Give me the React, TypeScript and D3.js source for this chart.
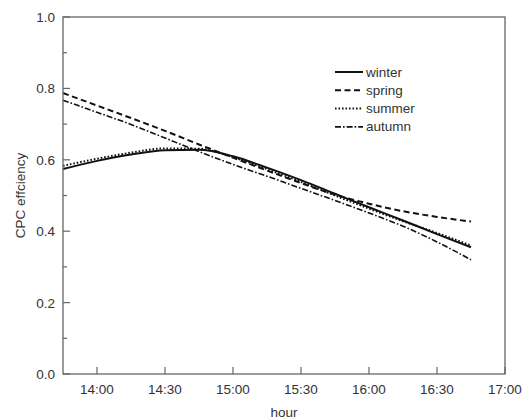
import React from 'react'
import * as d3 from 'd3'

const width = 530
const height = 419
const margin = { top: 17, right: 25, bottom: 45, left: 63 }

// times in 15-minute steps, 13:45 .. 16:45
const times = ['13:45', '14:00', '14:15', '14:30', '14:45', '15:00', '15:15',
  '15:30', '15:45', '16:00', '16:15', '16:30', '16:45']

const winter = [0.574, 0.597, 0.615, 0.627, 0.628, 0.61, 0.578, 0.543, 0.505, 0.467, 0.43, 0.392, 0.355]
const spring = [0.787, 0.752, 0.717, 0.681, 0.643, 0.606, 0.57, 0.535, 0.502, 0.477, 0.456, 0.44, 0.427]
const summer = [0.583, 0.603, 0.62, 0.632, 0.631, 0.607, 0.574, 0.538, 0.5, 0.463, 0.428, 0.395, 0.36]
const autumn = [0.767, 0.733, 0.699, 0.661, 0.623, 0.587, 0.554, 0.52, 0.486, 0.451, 0.414, 0.37, 0.32]

const seriesNames = ['winter', 'spring', 'summer', 'autumn']
const yTicks = [0, 0.2, 0.4, 0.6, 0.8, 1.0]
const yMinorTicks = [0.1, 0.3, 0.5, 0.7, 0.9]

const dashes: { [k: string]: string } = {
  winter: 'none',
  spring: '6,3.5',
  summer: '1.6,1.9',
  autumn: '6,2,1.6,2',
}
const widths: { [k: string]: number } = { winter: 2, spring: 2, summer: 2, autumn: 1.6 }

const parseT = (s: string) => d3.timeParse('%H:%M')(s) as Date

export default function App() {
  const seriesValues = [winter, spring, summer, autumn]

  const x = d3.scaleTime()
    .domain([parseT('13:45'), parseT('17:00')])
    .range([margin.left, width - margin.right])

  const y = d3.scaleLinear()
    .domain([0, 1])
    .range([height - margin.bottom, margin.top])

  const xTicks = x.ticks(d3.timeMinute.every(30) as d3.TimeInterval)
  const fmt = d3.timeFormat('%H:%M')

  const line = d3.line<number>()
    .x((_, i) => x(parseT(times[i])))
    .y(d => y(d))
    .curve(d3.curveMonotoneX)

  const axisColor = '#666'
  const textColor = '#333'
  const font = 'Liberation Sans, Arial, sans-serif'
  const x0 = margin.left
  const x1 = width - margin.right
  const yb = height - margin.bottom
  const yt = margin.top

  return (
    <svg width={width} height={height}
      style={{ position: 'absolute', left: 0, top: 0, background: '#fff' }}
      fontFamily={font}>
      <rect x={0} y={0} width={width} height={height} fill='#fff' />

      {/* series */}
      {seriesNames.map((name, k) => (
        <path key={name}
          d={line(seriesValues[k]) || ''}
          fill='none'
          stroke='#111'
          strokeWidth={widths[name]}
          strokeDasharray={dashes[name]} />
      ))}

      {/* frame */}
      <rect x={x0} y={yt} width={x1 - x0} height={yb - yt}
        fill='none' stroke={axisColor} strokeWidth={1.3} />

      {/* y ticks */}
      {yTicks.map(t => (
        <g key={'y' + t}>
          <line x1={x0} x2={x0 + 7} y1={y(t)} y2={y(t)} stroke={axisColor} strokeWidth={1.2} />
          <text x={x0 - 8} y={y(t) + 5} textAnchor='end' fontSize={13.5} fill={textColor}>
            {t.toFixed(1)}
          </text>
        </g>
      ))}
      {yMinorTicks.map(t => (
        <line key={'ym' + t} x1={x0} x2={x0 + 4} y1={y(t)} y2={y(t)} stroke={axisColor} strokeWidth={1.2} />
      ))}

      {/* x ticks */}
      {xTicks.map(t => (
        <g key={'x' + t.getTime()}>
          <line x1={x(t)} x2={x(t)} y1={yb} y2={yb - 7} stroke={axisColor} strokeWidth={1.2} />
          <text x={x(t)} y={yb + 20} textAnchor='middle' fontSize={13.5} fill={textColor}>
            {fmt(t)}
          </text>
        </g>
      ))}

      {/* axis titles */}
      <text x={(x0 + x1) / 2} y={height - 2} textAnchor='middle' fontSize={13.5} fill={textColor}>
        hour
      </text>
      <text transform={'translate(25,' + ((yt + yb) / 2) + ') rotate(-90)'}
        textAnchor='middle' fontSize={13.5} fill={textColor}>
        CPC effciency
      </text>

      {/* legend */}
      {seriesNames.map((name, k) => {
        const ly = 72 + k * 18.3
        return (
          <g key={'lg' + name}>
            <line x1={335} x2={363} y1={ly} y2={ly}
              stroke='#111' strokeWidth={widths[name]} strokeDasharray={dashes[name]} />
            <text x={366} y={ly + 4.5} fontSize={13.5} fill={textColor}>{name}</text>
          </g>
        )
      })}
    </svg>
  )
}
